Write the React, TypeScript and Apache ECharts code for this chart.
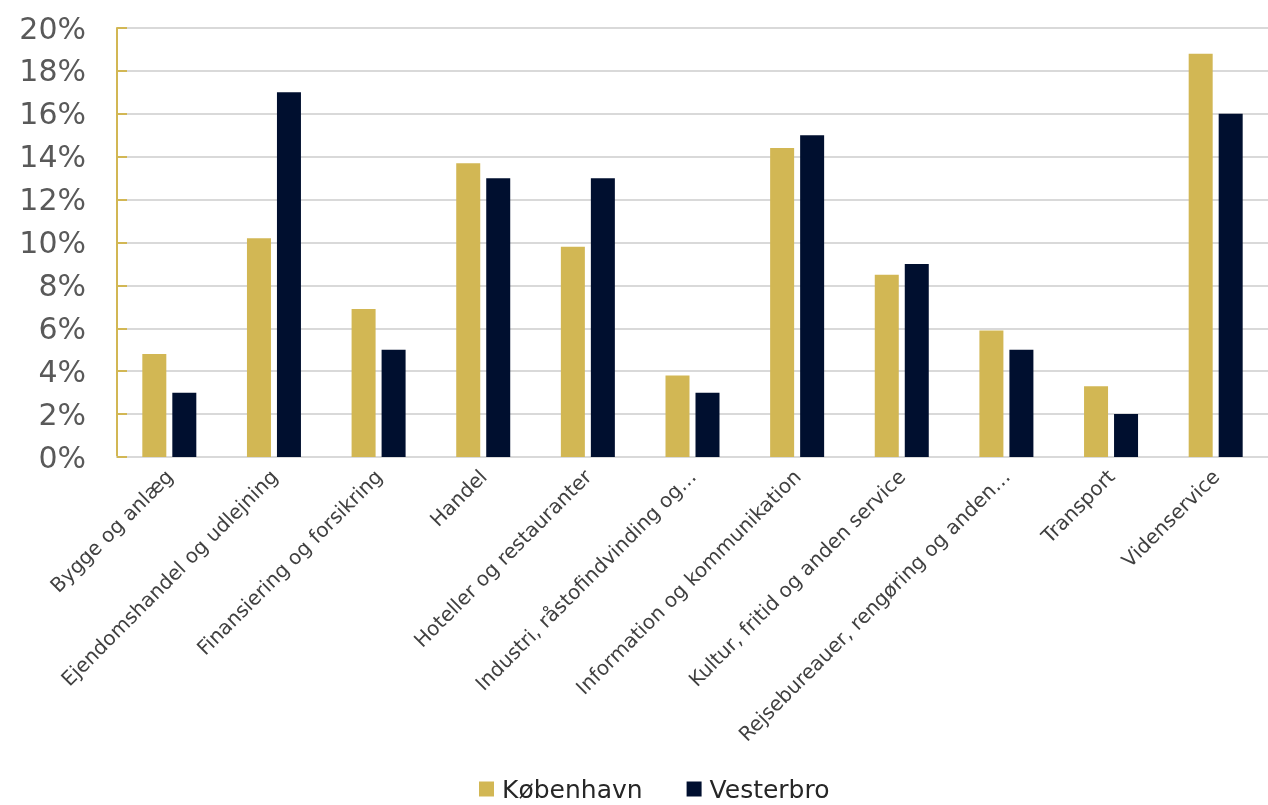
import React, { useEffect, useRef } from "react";
import * as echarts from "echarts";

const categories = [
  "Bygge og anlæg",
  "Ejendomshandel og udlejning",
  "Finansiering og forsikring",
  "Handel",
  "Hoteller og restauranter",
  "Industri, råstofindvinding og…",
  "Information og kommunikation",
  "Kultur, fritid og anden service",
  "Rejsebureauer, rengøring og anden…",
  "Transport",
  "Videnservice",
];
const kobenhavn = [4.8, 10.2, 6.9, 13.7, 9.8, 3.8, 14.4, 8.5, 5.9, 3.3, 18.8];
const vesterbro = [3, 17, 5, 13, 13, 3, 15, 9, 5, 2, 16];
const seriesNames = ["København", "Vesterbro"];

const GOLD = "#D2B754";
const NAVY = "#000F2F";
const FONT = "'DejaVu Sans', sans-serif";

export default function App() {
  const ref = useRef<HTMLDivElement>(null);
  useEffect(() => {
    const chart = echarts.init(ref.current!, null, { renderer: "svg" });
    chart.setOption({
      animation: false,
      grid: { left: 117, width: 1166, top: 28, bottom: 348, containLabel: false },
      legend: {
        top: 771,
        left: 474,
        itemWidth: 15,
        itemHeight: 15,
        itemGap: 44,
        icon: "rect",
        textStyle: { fontFamily: FONT, fontSize: 25, lineHeight: 26, color: "#262626", padding: [0, 0, 0, 3] },
        data: seriesNames,
      },
      xAxis: {
        type: "category",
        data: categories,
        axisLine: { show: true, lineStyle: { color: "#D9D9D9", width: 2 } },
        axisTick: { show: false },
        axisLabel: {
          rotate: 45,
          interval: 0,
          margin: 16,
          fontFamily: FONT,
          fontSize: 20,
          color: "#404040",
        },
      },
      yAxis: {
        type: "value",
        min: 0,
        max: 20,
        interval: 2,
        axisLine: { show: true, lineStyle: { color: GOLD, width: 2 } },
        axisTick: { show: true, inside: true, length: 10, lineStyle: { color: GOLD, width: 2 } },
        splitLine: { show: true, lineStyle: { color: "#D9D9D9", width: 2 } },
        axisLabel: {
          formatter: "{value}%",
          margin: 31,
          fontFamily: FONT,
          fontSize: 30,
          color: "#595959",
        },
      },
      series: [
        {
          name: seriesNames[0],
          type: "bar",
          data: kobenhavn,
          itemStyle: { color: GOLD },
          barWidth: 24,
          barGap: "25%",
        },
        {
          name: seriesNames[1],
          type: "bar",
          data: vesterbro,
          itemStyle: { color: NAVY },
          barWidth: 24,
          barGap: "25%",
        },
      ],
    });
    return () => chart.dispose();
  }, []);
  return (
    <div
      ref={ref}
      style={{ position: "fixed", left: 0, top: 0, width: 1268, height: 805, overflow: "hidden" }}
    />
  );
}
